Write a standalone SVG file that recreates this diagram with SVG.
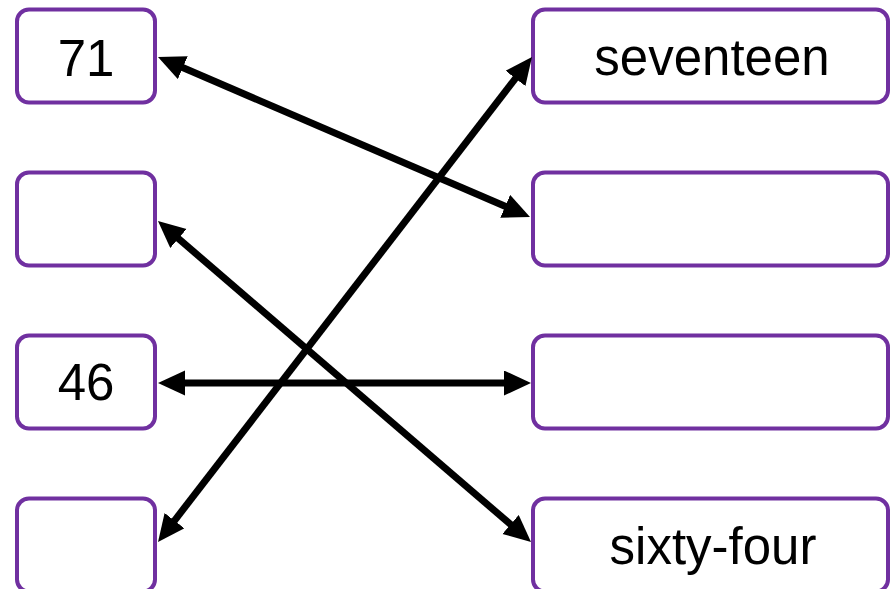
<svg xmlns="http://www.w3.org/2000/svg" width="892" height="589" viewBox="0 0 892 589">
<style>
.box{fill:#fff;stroke:#7030A0;stroke-width:4}
.lbl{font-family:"Liberation Sans",Arial,sans-serif;font-size:51px;fill:#000;text-anchor:middle}
.conn{stroke:#000;stroke-width:7;fill:none;marker-start:url(#ah);marker-end:url(#ah)}
</style>
<defs>
<marker id="ah" markerUnits="userSpaceOnUse" markerWidth="28" markerHeight="26" refX="11" refY="12.5" orient="auto-start-reverse" viewBox="0 0 28 26">
<path d="M0,0 L27,12.5 L0,25 z" fill="#000"/>
</marker>
</defs>
<rect width="892" height="589" fill="#fff"/>
<g id="L1"><rect class="box" x="17" y="9.5" width="138" height="93" rx="12"/><text class="lbl" x="86" y="76">71</text></g>
<g id="L2"><rect class="box" x="17" y="172.5" width="138" height="93" rx="12"/></g>
<g id="L3"><rect class="box" x="17" y="335.5" width="138" height="93" rx="12"/><text class="lbl" x="86" y="400">46</text></g>
<g id="L4"><rect class="box" x="17" y="498.5" width="138" height="93" rx="12"/></g>
<g id="R1"><rect class="box" x="533" y="9.5" width="355" height="93" rx="12"/><text class="lbl" x="712" y="75">seventeen</text></g>
<g id="R2"><rect class="box" x="533" y="172.5" width="355" height="93" rx="12"/></g>
<g id="R3"><rect class="box" x="533" y="335.5" width="355" height="93" rx="12"/></g>
<g id="R4"><rect class="box" x="533" y="498.5" width="355" height="93" rx="12"/><text class="lbl" x="713" y="564">sixty-four</text></g>
<g id="connectors">
<line class="conn" x1="172.7" y1="63.3" x2="515.3" y2="210.7"/>
<line class="conn" x1="170.1" y1="231.4" x2="518.9" y2="531.6"/>
<line class="conn" x1="174" y1="383" x2="515" y2="383"/>
<line class="conn" x1="167.8" y1="529.3" x2="522.2" y2="69.7"/>
</g>
</svg>
